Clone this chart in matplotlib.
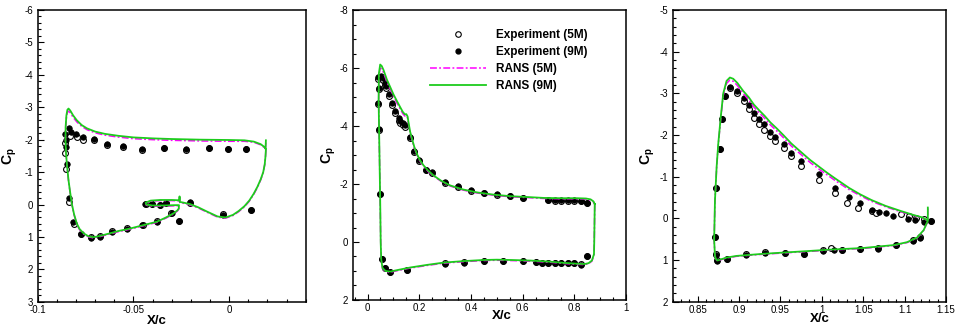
import numpy as np
import matplotlib
matplotlib.use("Agg")
import matplotlib.pyplot as plt
from matplotlib.ticker import MultipleLocator, FuncFormatter
from matplotlib.lines import Line2D

plt.rcParams['font.family'] = ['Liberation Sans', 'DejaVu Sans']
plt.rcParams['mathtext.fontset'] = 'custom'
plt.rcParams['mathtext.bf'] = 'Liberation Sans:bold'
plt.rcParams['mathtext.rm'] = 'Liberation Sans'

GREEN = '#1ccc1c'
MAGENTA = '#ff00ff'

# ---------------- slat (x/c, Cp) ----------------
slat_rans9 = [
    (0.0192, -1.70), (0.0190, -1.50), (0.0186, -1.25), (0.0178, -1.00), (0.0165, -0.78),
    (0.0148, -0.55), (0.0128, -0.33), (0.0105, -0.12), (0.0080, 0.05), (0.0050, 0.20),
    (0.0020, 0.32), (-0.0018, 0.40), (-0.0060, 0.37), (-0.0115, 0.22), (-0.0160, 0.09),
    (-0.0203, -0.01), (-0.0240, -0.06), (-0.0258, -0.08), (-0.0259, -0.25), (-0.0260, -0.13),
    (-0.0300, -0.14), (-0.0360, -0.14), (-0.0410, -0.12), (-0.0436, -0.06), (-0.0433, 0.00),
    (-0.0400, 0.03), (-0.0340, 0.03), (-0.0285, 0.02), (-0.0262, 0.02), (-0.0263, 0.12),
    (-0.0270, 0.18), (-0.0290, 0.27), (-0.0330, 0.40), (-0.0377, 0.53), (-0.0450, 0.64),
    (-0.0517, 0.74), (-0.0580, 0.82), (-0.0630, 0.90), (-0.0675, 0.97), (-0.0709, 1.01),
    (-0.0735, 0.98), (-0.0760, 0.89), (-0.0782, 0.75), (-0.0796, 0.58), (-0.0810, 0.30),
    (-0.0822, -0.03), (-0.0831, -0.40), (-0.0839, -0.75), (-0.0846, -1.15), (-0.0852, -1.58),
    (-0.0855, -2.00), (-0.0854, -2.40), (-0.0850, -2.75), (-0.0845, -2.92), (-0.0839, -2.96),
    (-0.0830, -2.90), (-0.0815, -2.75), (-0.0796, -2.60), (-0.0770, -2.45), (-0.0743, -2.35),
    (-0.0700, -2.25), (-0.0650, -2.18), (-0.0580, -2.12), (-0.0500, -2.07), (-0.0400, -2.04),
    (-0.0300, -2.02), (-0.0150, -2.00), (0.0000, -1.99), (0.0080, -1.98), (0.0129, -1.94),
    (0.0165, -1.86), (0.0183, -1.78), (0.0190, -1.72), (0.0192, -1.98),
]
slat_rans5 = [
    (0.0192, -1.68), (0.0190, -1.48), (0.0186, -1.23), (0.0178, -0.98), (0.0165, -0.76),
    (0.0148, -0.53), (0.0128, -0.31), (0.0105, -0.10), (0.0080, 0.07), (0.0050, 0.22),
    (0.0020, 0.34), (-0.0018, 0.42), (-0.0060, 0.39), (-0.0115, 0.24), (-0.0160, 0.11),
    (-0.0203, 0.01), (-0.0240, -0.04), (-0.0258, -0.06), (-0.0259, -0.22), (-0.0260, -0.11),
    (-0.0300, -0.12), (-0.0360, -0.12), (-0.0410, -0.10), (-0.0436, -0.04), (-0.0433, 0.02),
    (-0.0400, 0.05), (-0.0340, 0.05), (-0.0285, 0.04), (-0.0262, 0.04), (-0.0263, 0.14),
    (-0.0270, 0.20), (-0.0290, 0.29), (-0.0330, 0.42), (-0.0377, 0.55), (-0.0450, 0.66),
    (-0.0517, 0.76), (-0.0580, 0.84), (-0.0630, 0.92), (-0.0675, 0.99), (-0.0709, 1.03),
    (-0.0735, 1.00), (-0.0760, 0.91), (-0.0782, 0.77), (-0.0796, 0.60), (-0.0810, 0.32),
    (-0.0822, -0.01), (-0.0831, -0.38), (-0.0839, -0.73), (-0.0846, -1.12), (-0.0852, -1.55),
    (-0.0855, -1.96), (-0.0854, -2.35), (-0.0850, -2.68), (-0.0845, -2.84), (-0.0839, -2.88),
    (-0.0830, -2.83), (-0.0815, -2.69), (-0.0796, -2.55), (-0.0770, -2.41), (-0.0743, -2.31),
    (-0.0700, -2.21), (-0.0650, -2.14), (-0.0580, -2.08), (-0.0500, -2.03), (-0.0400, -2.00),
    (-0.0300, -1.98), (-0.0150, -1.96), (0.0000, -1.95), (0.0080, -1.95), (0.0129, -1.92),
    (0.0165, -1.84), (0.0183, -1.76), (0.0190, -1.70), (0.0192, -1.96),
]
slat_exp9 = [
    (-0.0839, -2.37), (-0.0827, -2.24), (-0.0799, -2.19), (-0.0761, -2.09), (-0.0705, -2.01),
    (-0.0639, -1.86), (-0.0555, -1.81), (-0.0456, -1.71), (-0.0342, -1.75), (-0.0223, -1.71),
    (-0.0103, -1.75), (-0.0007, -1.72), (0.0089, -1.72), (-0.0856, -2.19), (-0.0854, -2.00),
    (-0.0853, -1.78), (-0.0849, -1.25), (-0.0835, -0.19), (-0.0813, 0.53), (-0.0775, 0.92),
    (-0.0722, 1.04), (-0.0673, 0.99), (-0.0613, 0.84), (-0.0534, 0.75), (-0.0454, 0.64),
    (-0.0377, 0.53), (-0.0301, 0.26), (-0.0261, 0.51), (-0.0206, -0.08), (-0.0031, 0.32),
    (0.0116, 0.17), (-0.0437, -0.03), (-0.0403, -0.03), (-0.0363, 0.00), (-0.0328, -0.06),
]
slat_exp5 = [
    (-0.0831, -2.11), (-0.0796, -2.09), (-0.0761, -2.00), (-0.0705, -1.98), (-0.0639, -1.84),
    (-0.0555, -1.78), (-0.0456, -1.69), (-0.0342, -1.73), (-0.0223, -1.68), (-0.0103, -1.73),
    (-0.0007, -1.70), (0.0089, -1.70), (-0.0857, -1.90), (-0.0856, -1.58), (-0.0852, -1.08),
    (-0.0835, -0.08), (-0.0812, 0.60), (-0.0775, 0.90), (-0.0723, 1.01), (-0.0674, 0.98),
    (-0.0613, 0.82), (-0.0534, 0.74), (-0.0452, 0.63), (-0.0377, 0.52), (-0.0304, 0.25),
    (-0.0262, 0.50), (-0.0206, -0.06), (-0.0031, 0.28), (0.0115, 0.17), (-0.0435, -0.01),
    (-0.0403, -0.02), (-0.0363, 0.02), (-0.0328, -0.05),
]

# ---------------- main element ----------------
main_rans9 = [
    (0.879, -1.31), (0.877, 0.00), (0.876, 0.42), (0.868, 0.64), (0.855, 0.73),
    (0.840, 0.76), (0.811, 0.75), (0.760, 0.72), (0.708, 0.68), (0.630, 0.64),
    (0.553, 0.62), (0.500, 0.61), (0.450, 0.62), (0.370, 0.66), (0.295, 0.71),
    (0.230, 0.79), (0.165, 0.88), (0.120, 0.96), (0.088, 1.02), (0.070, 1.00),
    (0.058, 0.90), (0.053, 0.60), (0.051, 0.00), (0.049, -1.43), (0.047, -2.60),
    (0.045, -3.73), (0.043, -4.89), (0.044, -5.81), (0.049, -6.12), (0.055, -6.07),
    (0.062, -5.93), (0.075, -5.60), (0.090, -5.30), (0.101, -5.08), (0.115, -4.84),
    (0.127, -4.64), (0.137, -4.48), (0.145, -4.40), (0.150, -4.41), (0.155, -4.33),
    (0.159, -4.10), (0.165, -3.80), (0.172, -3.56), (0.181, -3.28), (0.191, -3.04),
    (0.203, -2.82), (0.217, -2.64), (0.235, -2.46), (0.256, -2.29), (0.285, -2.11),
    (0.320, -1.95), (0.370, -1.81), (0.424, -1.71), (0.490, -1.63), (0.553, -1.58),
    (0.620, -1.55), (0.682, -1.52), (0.750, -1.51), (0.811, -1.51), (0.845, -1.50),
    (0.863, -1.47), (0.874, -1.40), (0.879, -1.31),
]
main_rans5 = [
    (0.879, -1.29), (0.877, 0.02), (0.876, 0.44), (0.868, 0.66), (0.855, 0.75),
    (0.840, 0.78), (0.811, 0.77), (0.760, 0.74), (0.708, 0.70), (0.630, 0.66),
    (0.553, 0.64), (0.500, 0.63), (0.450, 0.64), (0.370, 0.68), (0.295, 0.73),
    (0.230, 0.81), (0.165, 0.90), (0.120, 0.98), (0.088, 1.04), (0.070, 1.02),
    (0.058, 0.92), (0.053, 0.62), (0.051, 0.02), (0.049, -1.40), (0.047, -2.56),
    (0.045, -3.68), (0.043, -4.82), (0.044, -5.70), (0.049, -6.00), (0.055, -5.96),
    (0.062, -5.84), (0.075, -5.52), (0.090, -5.23), (0.101, -5.01), (0.115, -4.77),
    (0.127, -4.58), (0.137, -4.42), (0.145, -4.34), (0.150, -4.35), (0.155, -4.27),
    (0.159, -4.05), (0.165, -3.76), (0.172, -3.52), (0.181, -3.25), (0.191, -3.01),
    (0.203, -2.79), (0.217, -2.61), (0.235, -2.43), (0.256, -2.27), (0.285, -2.09),
    (0.320, -1.93), (0.370, -1.79), (0.424, -1.69), (0.490, -1.61), (0.553, -1.56),
    (0.620, -1.53), (0.682, -1.50), (0.750, -1.49), (0.811, -1.49), (0.845, -1.48),
    (0.863, -1.45), (0.874, -1.38), (0.879, -1.29),
]
main_exp9 = [
    (0.040, -5.68), (0.043, -5.30), (0.040, -4.80), (0.043, -3.90), (0.048, -1.66),
    (0.052, -5.72), (0.058, -5.64), (0.066, -5.49), (0.071, -5.38), (0.085, -5.09),
    (0.095, -4.78), (0.105, -4.52), (0.120, -4.27), (0.127, -4.17), (0.137, -4.11),
    (0.146, -4.03), (0.163, -3.61), (0.178, -3.15), (0.200, -2.82), (0.225, -2.49),
    (0.250, -2.40), (0.300, -2.07), (0.350, -1.92), (0.400, -1.79), (0.450, -1.70),
    (0.500, -1.64), (0.550, -1.60), (0.600, -1.53), (0.700, -1.46), (0.725, -1.45),
    (0.750, -1.44), (0.775, -1.44), (0.800, -1.44), (0.825, -1.43), (0.850, -1.36),
    (0.056, 0.58), (0.066, 0.90), (0.088, 1.04), (0.153, 0.96), (0.300, 0.75),
    (0.375, 0.71), (0.450, 0.65), (0.525, 0.65), (0.600, 0.65), (0.650, 0.69),
    (0.675, 0.72), (0.700, 0.74), (0.725, 0.74), (0.750, 0.73), (0.775, 0.73),
    (0.800, 0.73), (0.825, 0.78), (0.850, 0.50),
]
main_exp5 = [
    (0.040, -5.62), (0.043, -5.26), (0.041, -4.76), (0.043, -3.86), (0.048, -1.64),
    (0.052, -5.66), (0.058, -5.58), (0.066, -5.40), (0.071, -5.30), (0.085, -5.02),
    (0.095, -4.72), (0.105, -4.46), (0.120, -4.19), (0.127, -4.10), (0.137, -4.05),
    (0.146, -3.97), (0.163, -3.58), (0.178, -3.12), (0.200, -2.80), (0.225, -2.47),
    (0.250, -2.38), (0.300, -2.05), (0.350, -1.90), (0.400, -1.77), (0.450, -1.68),
    (0.500, -1.62), (0.550, -1.58), (0.600, -1.51), (0.700, -1.44), (0.725, -1.43),
    (0.750, -1.42), (0.775, -1.42), (0.800, -1.42), (0.825, -1.41), (0.850, -1.34),
    (0.056, 0.60), (0.066, 0.90), (0.088, 1.03), (0.153, 0.95), (0.300, 0.74),
    (0.375, 0.70), (0.450, 0.64), (0.525, 0.64), (0.600, 0.64), (0.650, 0.68),
    (0.675, 0.71), (0.700, 0.73), (0.725, 0.73), (0.750, 0.72), (0.775, 0.72),
    (0.800, 0.72), (0.825, 0.77), (0.850, 0.49),
]

# ---------------- flap ----------------
flap_rans9 = [
    (1.128, -0.26), (1.128, 0.06), (1.127, 0.10), (1.123, 0.28), (1.115, 0.46),
    (1.103, 0.57), (1.087, 0.64), (1.050, 0.71), (1.010, 0.75), (0.970, 0.80),
    (0.929, 0.85), (0.897, 0.90), (0.885, 0.94), (0.877, 0.99), (0.874, 1.01),
    (0.872, 0.97), (0.871, 0.90), (0.870, 0.52), (0.871, -0.44), (0.873, -1.24),
    (0.875, -1.80), (0.878, -2.44), (0.881, -3.00), (0.885, -3.30), (0.889, -3.38),
    (0.893, -3.35), (0.898, -3.25), (0.905, -3.06), (0.912, -2.90), (0.918, -2.73),
    (0.925, -2.58), (0.931, -2.46), (0.938, -2.30), (0.945, -2.17), (0.954, -1.99),
    (0.963, -1.80), (0.975, -1.59), (0.986, -1.40), (0.996, -1.25), (1.006, -1.10),
    (1.016, -0.96), (1.033, -0.73), (1.046, -0.58), (1.060, -0.44), (1.077, -0.30),
    (1.095, -0.18), (1.111, -0.08), (1.122, -0.02), (1.127, 0.04),
]
flap_rans5 = [
    (1.128, -0.24), (1.128, 0.07), (1.127, 0.11), (1.123, 0.29), (1.115, 0.47),
    (1.103, 0.58), (1.087, 0.65), (1.050, 0.72), (1.010, 0.76), (0.970, 0.81),
    (0.929, 0.86), (0.897, 0.91), (0.885, 0.95), (0.877, 1.00), (0.874, 1.02),
    (0.872, 0.98), (0.871, 0.91), (0.870, 0.53), (0.871, -0.43), (0.873, -1.22),
    (0.875, -1.77), (0.878, -2.40), (0.881, -2.95), (0.885, -3.24), (0.889, -3.32),
    (0.893, -3.29), (0.898, -3.19), (0.905, -3.00), (0.912, -2.84), (0.918, -2.67),
    (0.925, -2.52), (0.931, -2.40), (0.938, -2.24), (0.945, -2.11), (0.954, -1.93),
    (0.963, -1.74), (0.975, -1.53), (0.986, -1.34), (0.996, -1.19), (1.006, -1.05),
    (1.016, -0.91), (1.033, -0.69), (1.046, -0.55), (1.060, -0.41), (1.077, -0.28),
    (1.095, -0.16), (1.111, -0.07), (1.122, -0.01), (1.127, 0.05),
]
flap_exp9 = [
    (0.871, 0.44), (0.872, -0.74), (0.877, -1.66), (0.879, -2.38), (0.883, -2.94),
    (0.889, -3.16), (0.898, -3.06), (0.906, -2.90), (0.912, -2.71), (0.918, -2.52),
    (0.924, -2.38), (0.930, -2.26), (0.938, -2.08), (0.944, -1.96), (0.954, -1.78),
    (0.963, -1.58), (0.975, -1.38), (0.996, -1.06), (1.016, -0.74), (1.033, -0.52),
    (1.046, -0.38), (1.060, -0.20), (1.069, -0.16), (1.077, -0.12), (1.086, -0.06),
    (1.104, 0.02), (1.113, 0.05), (1.123, 0.08), (1.132, 0.07),
    (0.872, 0.88), (0.874, 1.02), (0.885, 0.98), (0.908, 0.88), (0.932, 0.82),
    (0.956, 0.84), (0.979, 0.86), (1.002, 0.78), (1.015, 0.77), (1.024, 0.76),
    (1.046, 0.74), (1.068, 0.73), (1.089, 0.65), (1.110, 0.54), (1.119, 0.46),
]
flap_exp5 = [
    (0.871, 0.44), (0.872, -0.74), (0.877, -1.66), (0.879, -2.38), (0.883, -2.94),
    (0.889, -3.12), (0.898, -3.00), (0.906, -2.82), (0.912, -2.62), (0.918, -2.42),
    (0.924, -2.26), (0.930, -2.12), (0.938, -1.98), (0.944, -1.86), (0.954, -1.70),
    (0.963, -1.50), (0.975, -1.26), (0.996, -0.92), (1.016, -0.60), (1.031, -0.38),
    (1.044, -0.26), (1.060, -0.18), (1.066, -0.12), (1.095, -0.10), (1.105, -0.06),
    (1.114, -0.02), (1.123, 0.01), (1.132, 0.06),
    (0.872, 0.86), (0.874, 1.01), (0.885, 0.97), (0.908, 0.86), (0.932, 0.81),
    (0.956, 0.83), (0.979, 0.85), (1.002, 0.77), (1.011, 0.70), (1.024, 0.75),
    (1.046, 0.73), (1.068, 0.72), (1.089, 0.64), (1.110, 0.53), (1.119, 0.45),
]

panels = [
    dict(rect=[0.0393, 0.080, 0.2795, 0.8895], xlim=(-0.1, 0.04), ylim=(3, -6),
         xmaj=0.05, xmin=0.01, ymaj=1, ymin=0.2,
         rans9=slat_rans9, rans5=slat_rans5, exp9=slat_exp9, exp5=slat_exp5,
         xl=(0.444, -0.045), yl=(-0.068, 0.5)),
    dict(rect=[0.3684, 0.0854, 0.2844, 0.884], xlim=(-0.055, 1.0), ylim=(2, -8),
         xmaj=0.2, xmin=0.05, ymaj=2, ymin=0.5,
         rans9=main_rans9, rans5=main_rans5, exp9=main_exp9, exp5=main_exp5,
         xl=(0.544, -0.036), yl=(-0.057, 0.5)),
    dict(rect=[0.7015, 0.080, 0.285, 0.8895], xlim=(0.82, 1.15), ylim=(2, -5),
         xmaj=0.05, xmin=0.01, ymaj=1, ymin=0.2,
         rans9=flap_rans9, rans5=flap_rans5, exp9=flap_exp9, exp5=flap_exp5,
         xl=(0.539, -0.040), yl=(-0.058, 0.5)),
]

fmt = FuncFormatter(lambda v, p: '%g' % round(v, 6))

fig = plt.figure(figsize=(9.59, 3.28), dpi=100)
for pn in panels:
    ax = fig.add_axes(pn['rect'])
    e5 = np.array(pn['exp5'])
    e9 = np.array(pn['exp9'])
    r5 = np.array(pn['rans5'])
    r9 = np.array(pn['rans9'])
    ax.plot(e5[:, 0], e5[:, 1], 'o', ms=4.2, mfc='white', mec='black', mew=0.8)
    ax.plot(e9[:, 0], e9[:, 1], 'o', ms=4.0, mfc='black', mec='black', mew=0.5)
    ax.plot(r5[:, 0], r5[:, 1], color=MAGENTA, lw=1.1, dashes=(4.5, 1.5, 1.2, 1.5))
    ax.plot(r9[:, 0], r9[:, 1], color=GREEN, lw=1.3)
    ax.set_xlim(*pn['xlim'])
    ax.set_ylim(*pn['ylim'])
    ax.xaxis.set_major_locator(MultipleLocator(pn['xmaj']))
    ax.xaxis.set_minor_locator(MultipleLocator(pn['xmin']))
    ax.yaxis.set_major_locator(MultipleLocator(pn['ymaj']))
    ax.yaxis.set_minor_locator(MultipleLocator(pn['ymin']))
    ax.xaxis.set_major_formatter(fmt)
    ax.yaxis.set_major_formatter(fmt)
    ax.tick_params(which='both', direction='in', top=False, right=False, width=0.8)
    ax.tick_params(which='major', length=4.5, labelsize=7)
    ax.tick_params(which='minor', length=2.5)
    ax.tick_params(axis='x', which='major', pad=2)
    ax.tick_params(axis='y', which='major', pad=3.5)
    for s in ax.spines.values():
        s.set_linewidth(1.1)
    ax.set_xlabel('X/c', fontsize=9.5, fontweight='bold')
    ax.set_ylabel(r'$\mathbf{C_p}$', fontsize=10)
    ax.xaxis.set_label_coords(*pn['xl'])
    ax.yaxis.set_label_coords(*pn['yl'])
    if pn is panels[1]:
        handles = [
            Line2D([], [], ls='none', marker='o', ms=4.0, mfc='white', mec='black', mew=0.8),
            Line2D([], [], ls='none', marker='o', ms=3.5, mfc='black', mec='black'),
            Line2D([], [], color=MAGENTA, lw=1.1, dashes=(4.5, 1.5, 1.2, 1.5)),
            Line2D([], [], color=GREEN, lw=1.3),
        ]
        labels = ['Experiment (5M)', 'Experiment (9M)', 'RANS (5M)', 'RANS (9M)']
        fig.legend(handles, labels, loc='upper left', bbox_to_anchor=(0.4484, 0.912),
                   frameon=False, borderpad=0, borderaxespad=0, handlelength=4.7,
                   handletextpad=0.85, labelspacing=0.42,
                   prop={'family': 'Liberation Sans', 'weight': 'bold', 'size': 8.5})

fig.savefig('out.png', dpi=100)
